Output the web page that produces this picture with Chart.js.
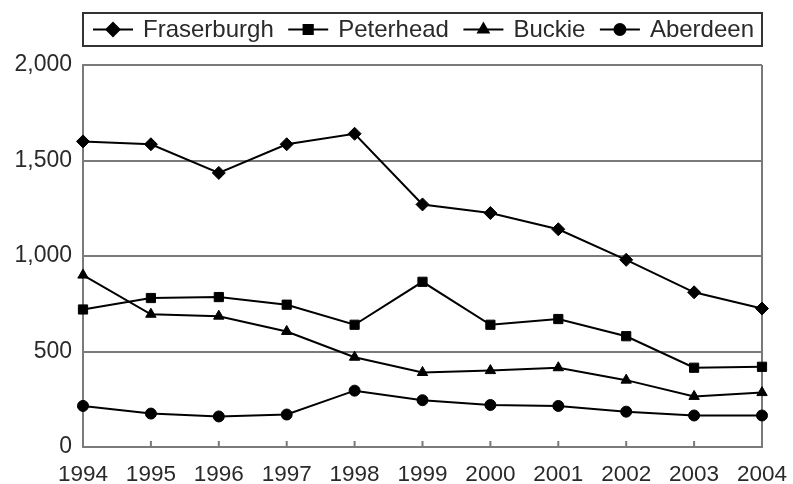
<!DOCTYPE html>
<html>
<head>
<meta charset="utf-8">
<script src="https://cdn.jsdelivr.net/npm/chart.js@4.4.1/dist/chart.umd.min.js"></script>
<style>
    html, body { margin: 0; padding: 0; background: #fff; }
    #wrap { width: 793px; height: 484px; position: relative; }
</style>
</head>
<body>
<div id="wrap"><canvas id="chartPuertos"></canvas></div>
<script>
const years = ["1994", "1995", "1996", "1997", "1998", "1999", "2000", "2001", "2002", "2003", "2004"];
const fraserburgh = [1600, 1585, 1435, 1585, 1640, 1270, 1225, 1140, 980, 810, 725];
const peterhead = [720, 780, 785, 745, 640, 865, 640, 670, 580, 415, 420];
const buckie = [900, 695, 685, 605, 470, 390, 400, 415, 350, 265, 285];
const aberdeen = [215, 175, 160, 170, 295, 245, 220, 215, 185, 165, 165];
const yTicks = [0, 500, 1000, 1500, 2000];

const FONT = "'Liberation Sans', Arial, Helvetica, sans-serif";
const GRIS = "#7a7a7a";
const TEXTO = "#2a2a2a";

function serie(label, data, style, radius) {
    return {
        label: label,
        data: data,
        borderColor: "#000",
        borderWidth: 2,
        backgroundColor: "#000",
        pointStyle: style,
        pointRadius: radius,
        pointBorderWidth: 1,
        pointBackgroundColor: "#000",
        pointBorderColor: "#000",
        tension: 0
    };
}

// leyenda con linea + marcador, dibujada en el canvas
const leyendaPlugin = {
    id: "leyendaLinea",
    afterDraw(chart) {
        const ctx = chart.ctx;
        const box = { left: 83, right: 762, top: 13, bottom: 46 };
        const cy = (box.top + box.bottom) / 2;
        ctx.save();
        ctx.strokeStyle = "#333";
        ctx.lineWidth = 2;
        ctx.strokeRect(box.left, box.top, box.right - box.left, box.bottom - box.top);

        ctx.font = "24px " + FONT;
        ctx.textBaseline = "middle";

        const ds = chart.data.datasets;
        const lineLen = 40, gapTxt = 10;
        const widths = ds.map(d => lineLen + gapTxt + ctx.measureText(d.label).width);
        const start = 93, end = 754;
        const total = widths.reduce((a, b) => a + b, 0);
        const gap = (end - start - total) / (ds.length - 1);

        let x = start;
        ds.forEach((d, i) => {
            ctx.strokeStyle = "#000";
            ctx.lineWidth = 2;
            ctx.beginPath();
            ctx.moveTo(x, cy);
            ctx.lineTo(x + lineLen, cy);
            ctx.stroke();
            ctx.fillStyle = "#000";
            Chart.helpers.drawPoint(ctx, { pointStyle: d.pointStyle, radius: d.pointRadius, borderWidth: 1, rotation: 0 }, x + lineLen / 2, cy);
            ctx.fill();
            ctx.fillStyle = TEXTO;
            ctx.fillText(d.label, x + lineLen + gapTxt, cy + 1);
            x += widths[i] + gap;
        });
        ctx.restore();
    }
};

// marcas del eje x hacia adentro y borde derecho
const marcasPlugin = {
    id: "marcas",
    beforeDatasetsDraw(chart) {
        const ctx = chart.ctx;
        const xs = chart.scales.x;
        const area = chart.chartArea;
        ctx.save();
        ctx.strokeStyle = GRIS;
        ctx.lineWidth = 2;
        ctx.beginPath();
        years.forEach((y, i) => {
            const px = xs.getPixelForValue(i);
            ctx.moveTo(px, area.bottom);
            ctx.lineTo(px, area.bottom - 6);
        });
        ctx.moveTo(area.right, area.top);
        ctx.lineTo(area.right, area.bottom);
        ctx.stroke();
        ctx.restore();
    }
};

new Chart(document.getElementById("chartPuertos"), {
    type: "line",
    data: {
        labels: years,
        datasets: [
            serie("Fraserburgh", fraserburgh, "rectRot", 6.5),
            serie("Peterhead", peterhead, "rect", 6.5),
            serie("Buckie", buckie, "triangle", 6),
            serie("Aberdeen", aberdeen, "circle", 5.5)
        ]
    },
    options: {
        responsive: true,
        maintainAspectRatio: false,
        animation: false,
        layout: { padding: { top: 65, right: 31, left: 0, bottom: 0 } },
        plugins: {
            legend: { display: false },
            tooltip: { enabled: false }
        },
        scales: {
            x: {
                offset: false,
                grid: { display: false, drawTicks: false },
                border: { display: true, color: GRIS, width: 2 },
                ticks: {
                    color: TEXTO,
                    padding: 14,
                    maxRotation: 0,
                    autoSkip: false,
                    font: { family: FONT, size: 22.5 }
                },
                afterFit(scale) {
                    scale.height = 37;
                    scale.paddingRight = 0;
                    scale.paddingLeft = 0;
                }
            },
            y: {
                min: 0,
                max: 2000,
                afterBuildTicks(scale) { scale.ticks = yTicks.map(v => ({ value: v })); },
                grid: { color: GRIS, lineWidth: 2, drawTicks: false },
                border: { display: true, color: GRIS, width: 2 },
                ticks: {
                    color: TEXTO,
                    padding: 11,
                    font: { family: FONT, size: 23 },
                    callback: v => v.toLocaleString("en-US")
                },
                afterFit(scale) {
                    scale.width = 83;
                    scale.paddingTop = 0;
                    scale.paddingBottom = 0;
                }
            }
        }
    },
    plugins: [leyendaPlugin, marcasPlugin]
});
</script>
</body>
</html>
